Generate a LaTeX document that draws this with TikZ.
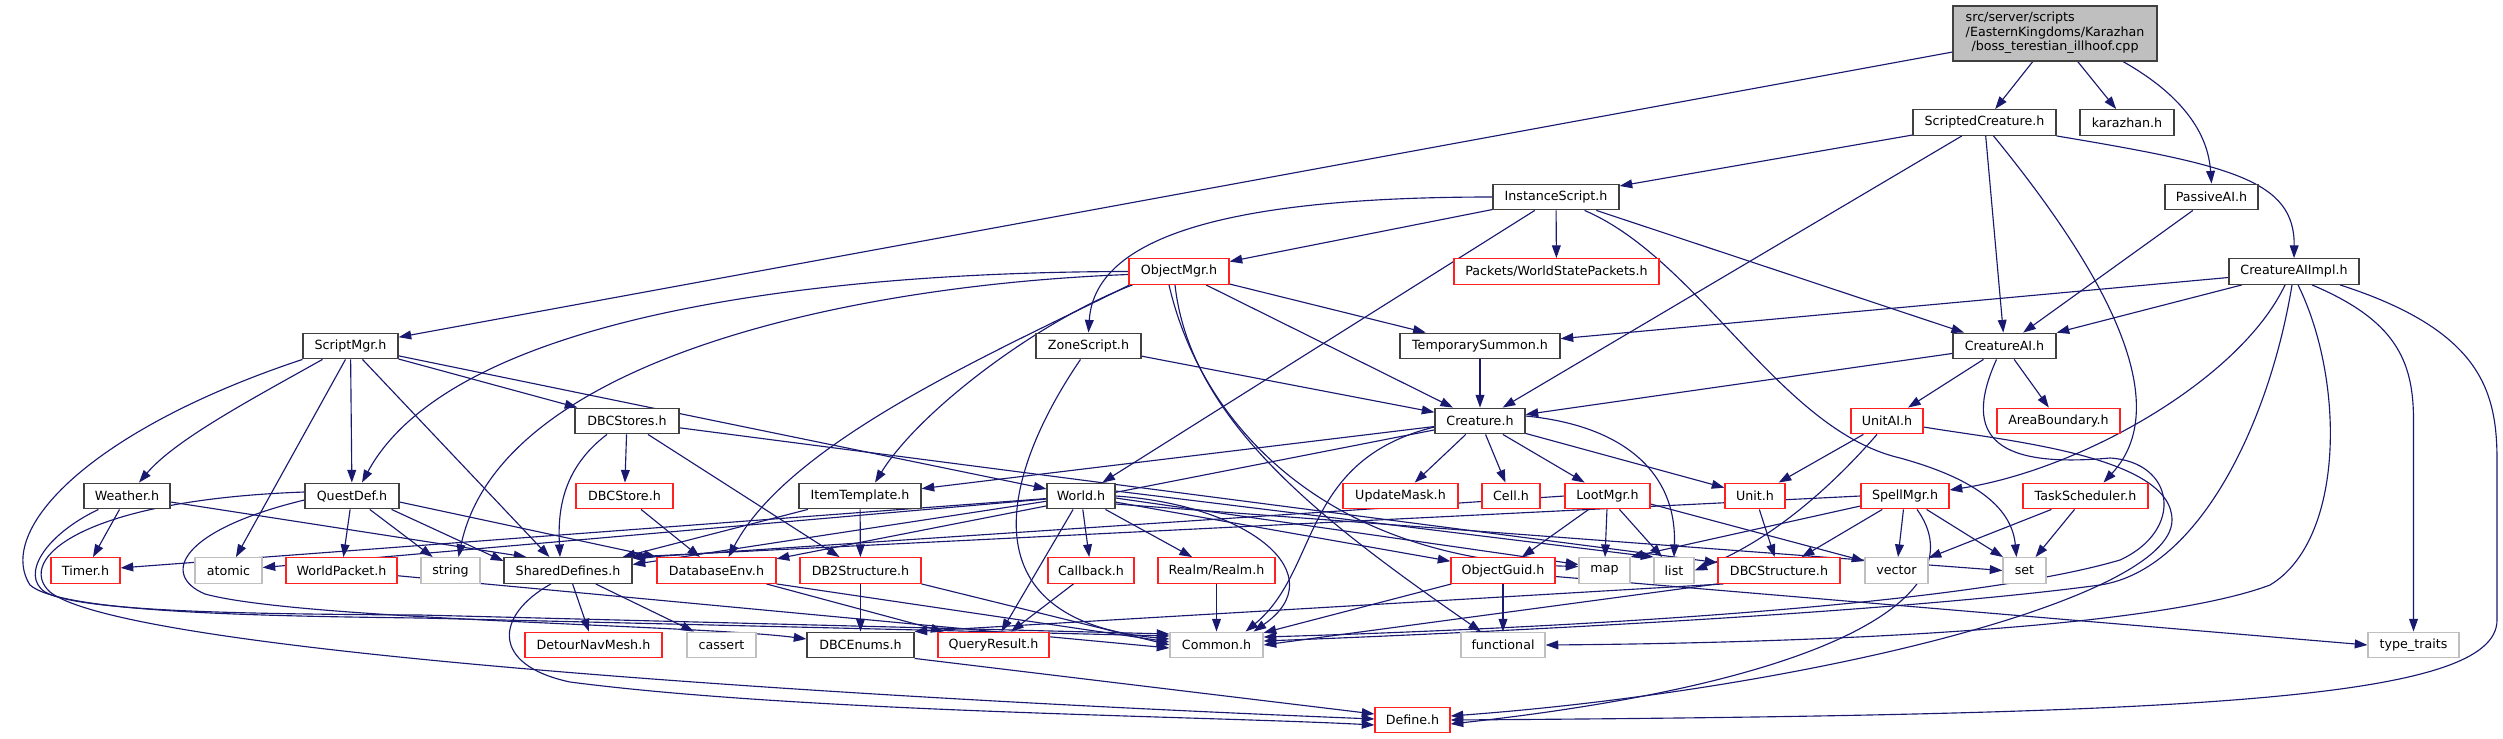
\documentclass[tikz,border=0pt]{standalone}
\usepackage{fontspec}
\setmainfont{DejaVu Sans}
\usetikzlibrary{arrows.meta,calc}
\definecolor{edgec}{HTML}{191970}
\definecolor{blk}{HTML}{404040}
\definecolor{redb}{HTML}{FF2020}
\definecolor{gryb}{HTML}{BFBFBF}
\newcommand\nodefnt{\fontsize{9.5pt}{10.9pt}\selectfont}
\pgfdeclarelayer{bg}
\pgfsetlayers{bg,main}
\tikzset{
  box/.style={rectangle, inner sep=0pt, minimum height=19.3pt, fill=white, line width=0.85pt, font=\nodefnt, text=black},
  nb/.style={box, draw=blk},
  nr/.style={box, draw=redb},
  ng/.style={box, draw=gryb},
  bw/.style={minimum width=#1*0.75pt},
  edg/.style={draw=edgec, line width=0.85pt, -{Triangle[length=9.5pt,width=6.6pt]}},
}
\begin{document}
\begin{tikzpicture}[x=0.75pt,y=-0.75pt]
\useasboundingbox (0,0) rectangle (2503,739);
% ---------- nodes ----------
\node[nb, fill=gryb, bw=204, minimum height=55*0.75pt] (root) at (2055,33.5)
  {\begin{tabular}{@{}l@{}}src/server/scripts\\/EasternKingdoms/Karazhan\\\multicolumn{1}{@{}c@{}}{/boss\_terestian\_illhoof.cpp}\end{tabular}};
\node[nb,bw=143] (scrc) at (1984.5,122.5) {ScriptedCreature.h};
\node[nb,bw=94]  (kara) at (2127,122.5) {karazhan.h};
\node[nb,bw=126] (inst) at (1556,197) {InstanceScript.h};
\node[nb,bw=93]  (pass) at (2211.5,197) {PassiveAI.h};
\node[nr,bw=100] (omgr) at (1179,271.5) {ObjectMgr.h};
\node[nr,bw=205] (pack) at (1556.5,271.5) {Packets/WorldStatePackets.h};
\node[nb,bw=130] (caii) at (2294,271.5) {CreatureAIImpl.h};
\node[nb,bw=95]  (smgr) at (350.5,346) {ScriptMgr.h};
\node[nb,bw=105] (zone) at (1088.5,346) {ZoneScript.h};
\node[nb,bw=160] (tsum) at (1480,346) {TemporarySummon.h};
\node[nb,bw=103] (cai)  at (2004.5,346) {CreatureAI.h};
\node[nb,bw=104] (dbcs) at (627,421) {DBCStores.h};
\node[nb,bw=90]  (crea) at (1480,421) {Creature.h};
\node[nr,bw=72]  (uai)  at (1887,421) {UnitAI.h};
\node[nr,bw=123] (area) at (2058.5,421) {AreaBoundary.h};
\node[nb,bw=86]  (weat) at (127,496) {Weather.h};
\node[nb,bw=94]  (qdef) at (352,496) {QuestDef.h};
\node[nr,bw=97]  (dbc1) at (624.5,496) {DBCStore.h};
\node[nb,bw=122] (item) at (860,496) {ItemTemplate.h};
\node[nb,bw=68]  (world) at (1081,496) {World.h};
\node[nr,bw=115] (upd)  at (1400.5,496) {UpdateMask.h};
\node[nr,bw=58]  (cell) at (1511,496) {Cell.h};
\node[nr,bw=85]  (loot) at (1607.5,496) {LootMgr.h};
\node[nr,bw=60]  (unit) at (1755,496) {Unit.h};
\node[nr,bw=88]  (spell) at (1905,496) {SpellMgr.h};
\node[nr,bw=125] (task) at (2085.5,496) {TaskScheduler.h};
\node[nr,bw=69]  (timer) at (85.5,570.5) {Timer.h};
\node[ng,bw=67]  (atom) at (228.5,570.5) {atomic};
\node[nr,bw=111] (wpkt) at (341.5,570.5) {WorldPacket.h};
\node[ng,bw=59]  (str)  at (450.5,570.5) {string};
\node[nb,bw=128] (shd)  at (568,570.5) {SharedDefines.h};
\node[nr,bw=119] (denv) at (716.5,570.5) {DatabaseEnv.h};
\node[nr,bw=121] (db2)  at (860.5,570.5) {DB2Structure.h};
\node[nr,bw=86]  (cb)   at (1091,570.5) {Callback.h};
\node[nr,bw=117] (realm) at (1216.5,570.5) {Realm/Realm.h};
\node[nr,bw=104] (guid) at (1503,570.5) {ObjectGuid.h};
\node[ng,bw=51]  (nmap) at (1604.5,570.5) {map};
\node[ng,bw=40]  (nlist) at (1674,570.5) {list};
\node[nr,bw=122] (dbcst) at (1779,570.5) {DBCStructure.h};
\node[ng,bw=63]  (vec)  at (1896.5,570.5) {vector};
\node[ng,bw=43]  (nset) at (2024.5,570.5) {set};
\node[nr,bw=137] (det)  at (593.5,645) {DetourNavMesh.h};
\node[ng,bw=69]  (cass) at (721.5,645) {cassert};
\node[nb,bw=107] (dbce) at (860.5,645) {DBCEnums.h};
\node[nr,bw=111] (qres) at (993.5,645) {QueryResult.h};
\node[ng,bw=93]  (common) at (1216.5,645) {Common.h};
\node[ng,bw=84]  (func) at (1503,645) {functional};
\node[ng,bw=91]  (tt)   at (2413.5,645) {type\_traits};
\node[nr,bw=75]  (def)  at (1412.5,720) {Define.h};
% ---------- edges ----------
\begin{pgfonlayer}{bg}
% root
\draw[edg] (root) -- (scrc);
\draw[edg] (root) -- (kara);
\draw[edg] (root) -- (smgr);
\draw[edg] ($(root.south)+(68,0)$) .. controls (2200,105) and (2209,150) .. (pass.north);
% ScriptedCreature
\draw[edg] (scrc) -- (inst);
\draw[edg] (scrc) -- (crea);
\draw[edg] (scrc) -- (cai);
\draw[edg] ($(scrc.south)+(9,0)$) .. controls (2095,260) and (2180,400) .. ($(task.north)+(18,0)$);
\draw[edg] (scrc.south east) .. controls (2230,165) and (2295,180) .. (caii.north);
% PassiveAI
\draw[edg] (pass) -- (cai);
% InstanceScript
\draw[edg] (inst.west) .. controls (1250,197) and (1095,230) .. (zone.north);
\draw[edg] (inst) -- (omgr);
\draw[edg] (inst) -- (pack);
\draw[edg] (inst) -- (world);
\draw[edg] (inst) -- (cai);
\draw[edg] ($(inst.south east)+(-35,0)$) .. controls (1700,260) and (1780,430) .. (1900,458) .. controls (1980,480) and (2012,510) .. ($(nset.north)+(-8,0)$);
% CreatureAIImpl
\draw[edg] (caii) -- (cai);
\draw[edg] (caii) -- (tsum);
\draw[edg] ($(caii.south)+(-9,0)$) .. controls (2240,380) and (2080,470) .. ($(spell.east)+(0,-6)$);
\draw[edg] ($(caii.south)+(-2,0)$) .. controls (2270,420) and (2200,570) .. (2100,585) .. controls (1900,612) and (1500,632) .. ($(common.east)+(0,-4)$);
\draw[edg] ($(caii.south)+(4,0)$) .. controls (2345,380) and (2345,540) .. (2270,585) .. controls (2150,630) and (1800,643) .. (func.east);
\draw[edg] ($(caii.south)+(18,0)$) .. controls (2395,320) and (2413.5,360) .. (2413.5,420) -- (tt.north);
\draw[edg] ($(caii.south)+(46,0)$) .. controls (2480,330) and (2497,390) .. (2497,460) -- (2497,620) .. controls (2497,700) and (2200,715) .. (def.east);
% ObjectMgr
\draw[edg] (omgr.west) .. controls (800,272) and (450,320) .. ($(qdef.north)+(10,0)$);
\draw[edg] ($(omgr.west)+(0,3)$) .. controls (850,285) and (500,360) .. ($(str.north)+(8,0)$);
\draw[edg] ($(omgr.south west)+(4,0)$) .. controls (1040,320) and (920,410) .. ($(item.north)+(15,0)$);
\draw[edg] ($(omgr.south west)+(1,0)$) .. controls (1000,350) and (790,440) .. ($(denv.north)+(12,0)$);
\draw[edg] (omgr) -- (crea);
\draw[edg] (omgr) -- (tsum);
\draw[edg] ($(omgr.south)+(-10,0)$) .. controls (1200,420) and (1320,560) .. ($(nmap.west)+(0,-4)$);
\draw[edg] ($(omgr.south)+(-4,0)$) .. controls (1190,420) and (1320,520) .. ($(func.north)+(-22,0)$);
% ScriptMgr
\draw[edg] ($(smgr.south)+(-28,0)$) .. controls (250,400) and (175,440) .. ($(weat.north)+(12,0)$);
\draw[edg] (smgr) -- (qdef);
\draw[edg] ($(smgr.south)+(-5,0)$) -- (atom);
\draw[edg] ($(smgr.south)+(12,0)$) -- ($(shd.north west)+(46,0)$);
\draw[edg] (smgr) -- (dbcs);
\draw[edg] (smgr) -- (world);
\draw[edg] (smgr.south west) .. controls (90,430) and (-5,530) .. (30,585) .. controls (60,612) and (250,616) .. (420,618) -- ($(common.west)+(0,-9)$);
% ZoneScript
\draw[edg] (zone) -- (crea);
\draw[edg] ($(zone.south)+(-8,0)$) .. controls (1005,470) and (960,620) .. ($(common.west)+(0,-6)$);
% TemporarySummon
\draw[edg] (tsum) -- (crea);
% CreatureAI
\draw[edg] (cai) -- (crea);
\draw[edg] (cai) -- (uai);
\draw[edg] (cai) -- (area);
\draw[edg] ($(cai.south)+(-8,0)$) .. controls (1960,440) and (2000,468) .. (2110,458) .. controls (2175,462) and (2185,530) .. (2120,560) .. controls (1950,610) and (1500,630) .. ($(common.east)+(0,-8)$);
% DBCStores
\draw[edg] (dbcs) -- (dbc1);
\draw[edg] ($(dbcs.south)+(-20,0)$) .. controls (560,470) and (558,515) .. ($(shd.north)+(-8,0)$);
\draw[edg] (dbcs) -- (db2);
\draw[edg] (dbcs) -- (dbcst);
% Creature
\draw[edg] (crea) -- (item);
\draw[edg] (crea) -- (denv);
\draw[edg] (crea) -- (upd);
\draw[edg] (crea) -- (cell);
\draw[edg] (crea) -- (loot);
\draw[edg] (crea) -- (unit);
\draw[edg] ($(crea.east)+(0,-5)$) .. controls (1620,425) and (1677,470) .. (nlist.north);
\draw[edg] ($(crea.west)+(0,6)$) .. controls (1300,460) and (1320,570) .. ($(common.north east)+(-18,0)$);
% UnitAI
\draw[edg] (uai) -- (unit);
\draw[edg] ($(uai.south)+(-10,0)$) .. controls (1820,500) and (1760,545) .. (nlist.east);
\draw[edg] ($(uai.east)+(0,6)$) .. controls (2000,440) and (2172,455) .. (2172,520) .. controls (2172,600) and (1800,690) .. ($(def.east)+(0,-4)$);
% Weather
\draw[edg] (weat) -- (timer);
\draw[edg] ($(weat.east)+(0,6)$) -- ($(shd.north west)+(23,0)$);
\draw[edg] ($(weat.south west)+(15,0)$) .. controls (45,535) and (20,575) .. (45,592) .. controls (80,612) and (250,614) .. (420,615) -- ($(common.west)+(0,-11)$);
% QuestDef
\draw[edg] (qdef) -- (wpkt);
\draw[edg] (qdef) -- (str);
\draw[edg] ($(qdef.south east)+(-8,0)$) -- ($(shd.north west)+(0,4)$);
\draw[edg] ($(qdef.east)+(0,6)$) -- (denv.north west);
\draw[edg] ($(qdef.west)+(0,4)$) .. controls (180,530) and (160,575) .. (205,594) .. controls (300,620) and (700,625) .. ($(dbce.west)+(0,-6)$);
\draw[edg] ($(qdef.west)+(0,-4)$) .. controls (80,500) and (15,560) .. (50,592) .. controls (130,655) and (900,700) .. ($(def.west)+(0,-1)$);
% ItemTemplate
\draw[edg] (item) -- ($(shd.north east)+(-10,0)$);
\draw[edg] (item) -- (db2);
% World
\draw[edg] (world) -- (timer);
\draw[edg] (world) -- (atom);
\draw[edg] (world) -- ($(shd.east)+(0,-6)$);
\draw[edg] (world) -- (qres);
\draw[edg] (world) -- (cb);
\draw[edg] (world) -- (realm);
\draw[edg] (world.east) .. controls (1250,505) and (1335,575) .. ($(common.north east)+(-10,0)$);
\draw[edg] (world) -- (guid);
\draw[edg] ($(world.east)+(0,2)$) -- ($(nmap.west)+(0,-6)$);
\draw[edg] ($(world.east)+(0,-5)$) -- (nlist.north west);
\draw[edg] ($(world.east)+(0,8)$) -- (nset.west);
% LootMgr
\draw[edg] (loot.west) -- ($(shd.north east)+(0,1)$);
\draw[edg] (loot) -- (guid);
\draw[edg] (loot) -- (nmap);
\draw[edg] (loot) -- (nlist);
\draw[edg] ($(loot.east)+(0,8)$) -- ($(vec.north west)+(0,4)$);
% Unit
\draw[edg] (unit) -- (dbcst);
% SpellMgr
\draw[edg] (spell.west) -- ($(shd.north east)+(-3,0)$);
\draw[edg] ($(spell.west)+(0,10)$) -- (nmap.north east);
\draw[edg] (spell) -- (dbcst);
\draw[edg] (spell) -- (vec);
\draw[edg] (spell) -- (nset);
\draw[edg] ($(spell.south)+(12,0)$) .. controls (1975,590) and (1850,680) .. ($(def.east)+(0,4)$);
% TaskScheduler
\draw[edg] (task) -- (vec);
\draw[edg] (task) -- (nset);
% DBCStore
\draw[edg] (dbc1) -- (denv);
% SharedDefines
\draw[edg] (shd) -- (det);
\draw[edg] (shd) -- (cass);
\draw[edg] ($(shd.south)+(-17,0)$) .. controls (495,615) and (490,665) .. (570,682) .. controls (800,712) and (1200,716) .. ($(def.west)+(0,5)$);
% DatabaseEnv
\draw[edg] (denv) -- (qres);
\draw[edg] (denv.south east) -- ($(common.west)+(0,-3)$);
% DB2Structure
\draw[edg] (db2) -- (dbce);
\draw[edg] (db2.south east) -- ($(common.west)+(0,0)$);
% Callback, Realm
\draw[edg] (cb) -- (qres);
\draw[edg] (realm) -- (common);
% ObjectGuid
\draw[edg] (guid) -- (common);
\draw[edg] (guid) -- (func);
\draw[edg] ($(guid.east)+(0,6)$) -- (tt.west);
% DBCStructure
\draw[edg] ($(dbcst.south west)+(6,0)$) -- (dbce.north east);
\draw[edg] (dbcst.south west) -- ($(common.east)+(0,0)$);
% WorldPacket
\draw[edg] (wpkt) -- ($(common.west)+(0,3)$);
% DBCEnums
\draw[edg] (dbce.south east) -- ($(def.west)+(0,-6)$);
\end{pgfonlayer}
\end{tikzpicture}
\end{document}
